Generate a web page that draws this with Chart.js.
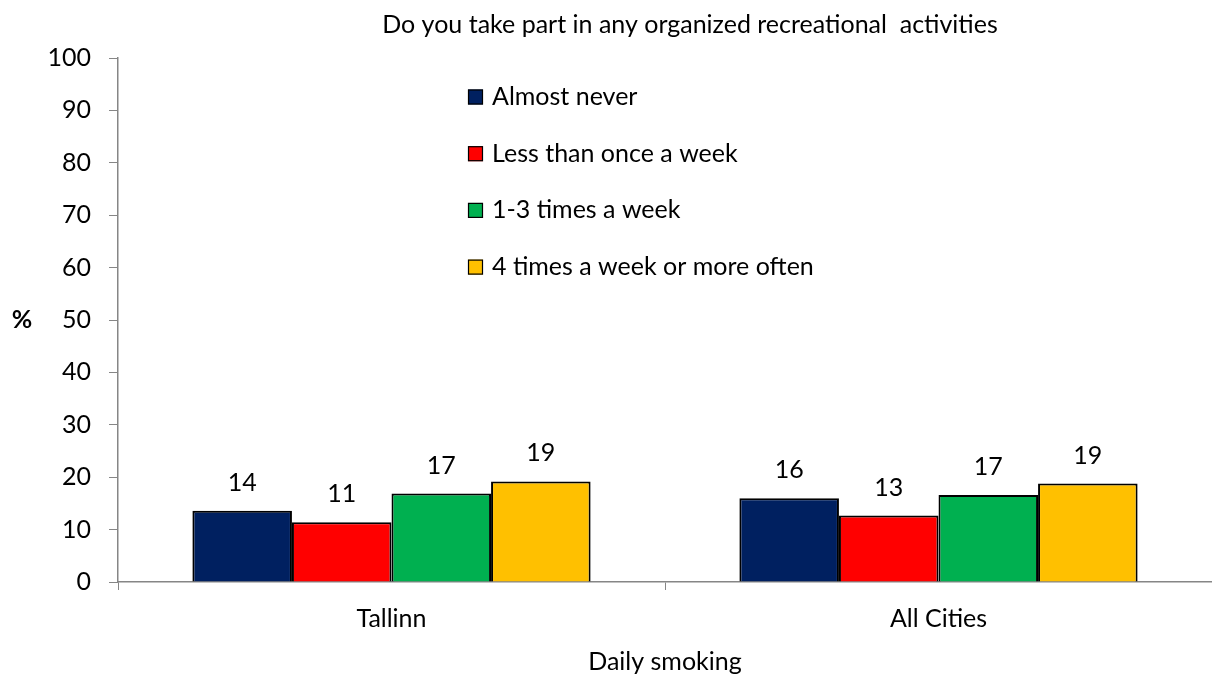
<!DOCTYPE html>
<html>
<head>
<meta charset="utf-8">
<script src="https://cdn.jsdelivr.net/npm/chart.js@4/dist/chart.umd.min.js"></script>
<style>
  html, body { margin: 0; padding: 0; background: #fff; }
  #wrap { width: 1212px; height: 677px; position: relative; }
</style>
</head>
<body>
<div id="wrap"><canvas id="chart"></canvas></div>
<script>
const categories = ["Tallinn", "All Cities"];
const seriesNames = ["Almost never", "Less than once a week", "1-3 times a week", "4 times a week or more often"];
const almostNever = [13.6, 16.0];
const lessThanWeekly = [11.4, 12.7];
const oneToThreeWeekly = [16.9, 16.6];
const fourPlusWeekly = [19.2, 18.8];
const colors = ["#002060", "#FF0000", "#00B050", "#FFC000"];

const titleText = "Do you take part in any organized recreational  activities";
const xTitle = "Daily smoking";
const yTitle = "%";

const FONT = "Lato, 'Open Sans', sans-serif";
const SIZE = 25;

// value labels over each bar
const barLabels = {
  id: "barLabels",
  afterDatasetsDraw(chart) {
    const ctx = chart.ctx;
    ctx.save();
    ctx.font = SIZE + "px " + FONT;
    ctx.fillStyle = "#000";
    ctx.textAlign = "center";
    ctx.textBaseline = "middle";
    chart.data.datasets.forEach((ds, i) => {
      chart.getDatasetMeta(i).data.forEach((bar, j) => {
        ctx.fillText(Math.round(ds.data[j]), bar.x, bar.y - 28);
      });
    });
    ctx.restore();
  }
};

// title, "%" label and the legend inside the plot
const extras = {
  id: "extras",
  afterDraw(chart) {
    const ctx = chart.ctx;
    const area = chart.chartArea;
    ctx.save();
    ctx.fillStyle = "#000";
    ctx.textBaseline = "middle";

    ctx.font = SIZE + "px " + FONT;
    ctx.textAlign = "center";
    ctx.fillText(titleText, (area.left + area.right) / 2 + 25, 25);

    ctx.font = "bold " + SIZE + "px " + FONT;
    ctx.fillText(yTitle, 22, (area.top + area.bottom) / 2);

    ctx.font = SIZE + "px " + FONT;
    ctx.textAlign = "left";
    chart.data.datasets.forEach((ds, i) => {
      const y = area.top + 39 + i * 56.7;
      const x = area.left + 350;
      ctx.fillStyle = ds.backgroundColor;
      ctx.fillRect(x, y - 7.5, 15, 15);
      ctx.strokeStyle = "#000";
      ctx.lineWidth = 1.2;
      ctx.strokeRect(x + 0.5, y - 7, 14, 14);
      ctx.fillStyle = "#000";
      ctx.fillText(ds.label, x + 24, y);
    });
    ctx.restore();
  }
};

const values = [almostNever, lessThanWeekly, oneToThreeWeekly, fourPlusWeekly];

new Chart(document.getElementById("chart"), {
  type: "bar",
  data: {
    labels: categories,
    datasets: values.map((v, i) => ({
      label: seriesNames[i],
      data: v,
      backgroundColor: colors[i],
      borderColor: "#000",
      borderWidth: 2,
      categoryPercentage: 0.728,
      barPercentage: 1.0
    }))
  },
  options: {
    responsive: true,
    maintainAspectRatio: false,
    animation: false,
    layout: {
      padding: { top: 58, right: 0, bottom: 0, left: 0 }
    },
    plugins: {
      legend: { display: false },
      tooltip: { enabled: false },
      title: { display: false }
    },
    scales: {
      x: {
        afterFit(scale) { scale.height = 95; },
        grid: {
          offset: true,
          drawOnChartArea: false,
          drawTicks: true,
          tickLength: 8,
          color: "#868686"
        },
        border: { color: "#868686", width: 1.5 },
        ticks: {
          color: "#000",
          font: { family: FONT, size: SIZE },
          padding: 14
        },
        title: {
          display: true,
          text: xTitle,
          color: "#000",
          font: { family: FONT, size: SIZE },
          padding: { top: 4, bottom: 0 }
        }
      },
      y: {
        min: 0,
        max: 100,
        afterFit(scale) { scale.width = 118; },
        grid: {
          drawOnChartArea: false,
          drawTicks: true,
          tickLength: 9,
          color: "#868686"
        },
        border: { color: "#868686", width: 1.5 },
        ticks: {
          stepSize: 10,
          color: "#000",
          font: { family: FONT, size: SIZE },
          padding: 18
        }
      }
    }
  },
  plugins: [barLabels, extras]
});
</script>
</body>
</html>
